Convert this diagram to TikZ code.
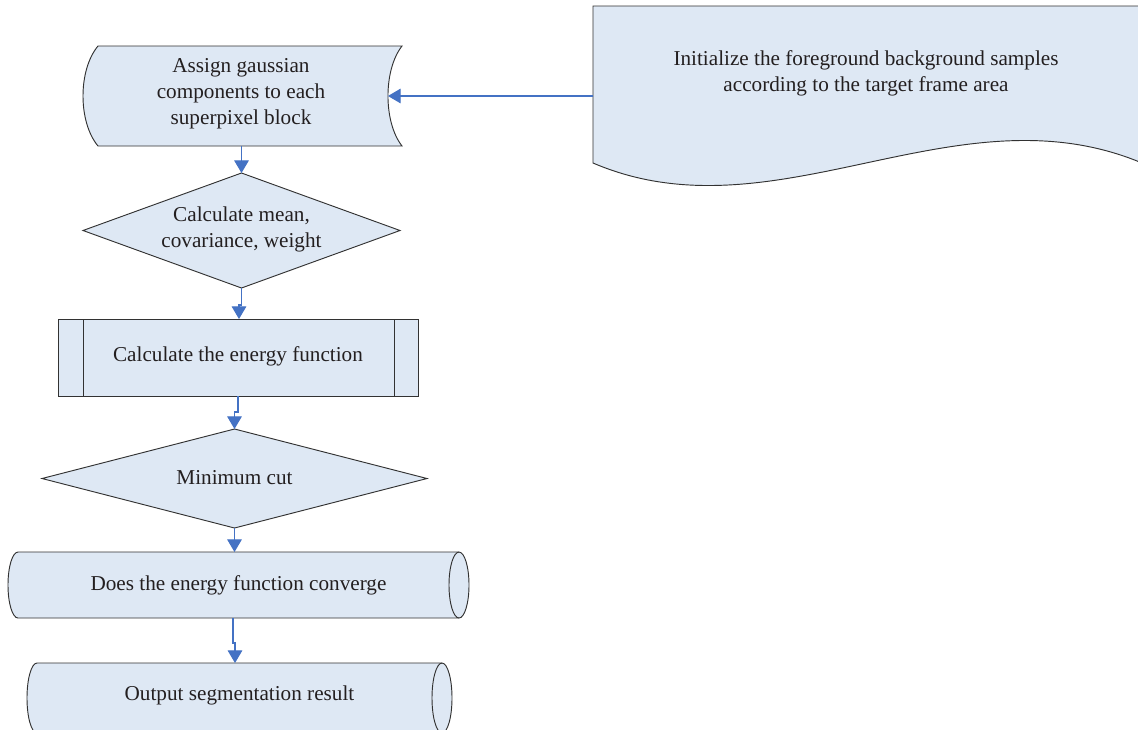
\documentclass[tikz,border=0pt]{standalone}
\usepackage{fontspec}
\setmainfont{Liberation Serif}
\usetikzlibrary{arrows.meta}
\definecolor{boxfill}{RGB}{222,232,244}
\definecolor{boxline}{RGB}{50,50,50}
\definecolor{connblue}{RGB}{68,114,196}
\definecolor{txt}{RGB}{35,31,32}
\begin{document}
\begin{tikzpicture}[x=0.75pt,y=-0.75pt,
  shapebox/.style={fill=boxfill,draw=boxline,line width=0.7pt,line join=miter},
  conn/.style={draw=connblue,line width=0.8pt,-{Triangle[length=9.5pt,width=11pt]}},
  label/.style={text=txt,align=center,inner sep=0pt,font=\fontsize{15.9}{19.5}\selectfont}]
\useasboundingbox (0,0) rectangle (1138,729);
\fill[white] (0,0) rectangle (1138,729);

% Document shape (top right)
\path[shapebox] (593,163) -- (593,6) -- (1142,6) -- (1142,163)
  .. controls (956,85) and (775,241) .. (593,163) -- cycle;
\node[label] (doc) at (866,73) {Initialize the foreground background samples\\according to the target frame area};
\coordinate (docw) at (593,96);

% Stored data shape
\path[shapebox] (98,46) -- (402,46) .. controls (383.3,70) and (383.3,122) .. (402,146)
  -- (98,146) .. controls (78,122) and (78,70) .. (98,46) -- cycle;
\node[label] (assign) at (241,94) {Assign gaussian\\components to each\\superpixel block};
\coordinate (s1e) at (388,96);
\coordinate (s1s) at (241.5,146);

% Diamond 1
\path[shapebox] (241.5,173) -- (400,230.5) -- (241.5,288) -- (83,230.5) -- cycle;
\node[label] (calc) at (241.5,229.5) {Calculate mean,\\covariance, weight};
\coordinate (d1n) at (241.5,173);
\coordinate (d1s) at (241.5,288);

% Predefined process
\path[shapebox] (58,319) rectangle (418,396);
\draw[boxline,line width=0.7pt] (83,319) -- (83,396) (394,319) -- (394,396);
\node[label] (energy) at (238,356) {Calculate the energy function};
\coordinate (rn) at (239,319);
\coordinate (rs) at (238,396);

% Diamond 2
\path[shapebox] (234.5,429) -- (427,478.5) -- (234.5,528) -- (42,478.5) -- cycle;
\node[label] (mincut) at (234.5,478) {Minimum cut};
\coordinate (d2n) at (234.5,429);
\coordinate (d2s) at (234.5,528);

% Cylinder 1
\path[shapebox] (18,552) -- (459,552) arc[start angle=90,end angle=-90,x radius=7.5pt,y radius=24.75pt]
  -- (18,618) arc[start angle=270,end angle=90,x radius=7.5pt,y radius=24.75pt] -- cycle;
\draw[boxline,line width=0.7pt] (459,552) arc[start angle=90,end angle=270,x radius=7.5pt,y radius=24.75pt];
\node[label] (conv) at (238.5,585) {Does the energy function converge};
\coordinate (c1n) at (234.5,552);
\coordinate (c1s) at (233,618);

% Cylinder 2 (cut by the lower edge)
\path[shapebox] (37,663) -- (442,663) arc[start angle=90,end angle=-90,x radius=7.5pt,y radius=26.25pt]
  -- (37,733) arc[start angle=270,end angle=90,x radius=7.5pt,y radius=26.25pt] -- cycle;
\draw[boxline,line width=0.7pt] (442,663) arc[start angle=90,end angle=270,x radius=7.5pt,y radius=26.25pt];
\node[label] (output) at (239.5,695) {Output segmentation result};
\coordinate (c2n) at (235,663);

% Connectors
\draw[conn] (docw) -- (s1e);
\draw[conn] (s1s) -- (d1n);
\draw[conn] (d1s) -- ++(0,17) -| (rn);
\draw[conn] (rs) -- ++(0,16) -| (d2n);
\draw[conn] (d2s) -- (c1n);
\draw[conn] (c1s) -- ++(0,25) -| (c2n);
\end{tikzpicture}
\end{document}
